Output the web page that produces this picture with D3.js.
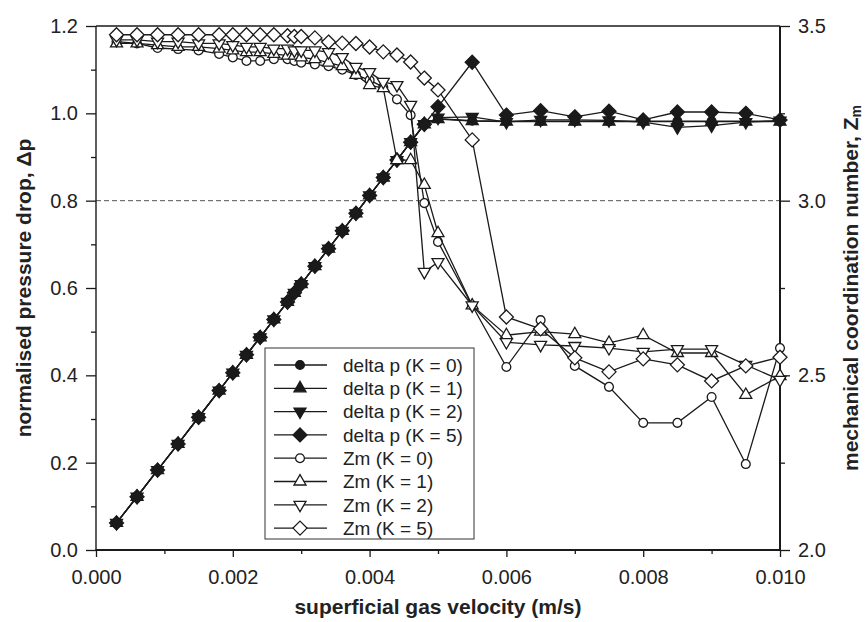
<!DOCTYPE html>
<html><head><meta charset="utf-8">
<script src="https://cdn.jsdelivr.net/npm/d3@7"></script>
<style>
html,body{margin:0;padding:0;background:#fff;}
svg{display:block;font-family:"Liberation Sans",Arial,sans-serif;}
</style></head>
<body>
<svg id="chart" width="866" height="622"></svg>
<script>
// ---------------- data ----------------
const velocity = [0.0003,0.0006,0.0009,0.0012,0.0015,0.0018,0.0020,0.0022,0.0024,0.0026,0.0028,0.0029,0.0030,
  0.0032,0.0034,0.0036,0.0038,0.0040,0.0042,0.0044,0.0046,0.0048,0.0050,0.0055,0.0060,0.0065,0.0070,0.0075,
  0.0080,0.0085,0.0090,0.0095,0.0100];

const dpK0 = [0.062,0.122,0.183,0.243,0.304,0.365,0.406,0.447,0.487,0.528,0.568,0.589,0.609,0.650,0.690,0.731,0.771,
  0.812,0.853,0.893,0.934,0.975,0.988,0.983,0.982,0.982,0.982,0.982,0.982,0.982,0.982,0.982,0.982];
const dpK1 = [0.062,0.122,0.183,0.243,0.304,0.365,0.406,0.447,0.487,0.528,0.568,0.589,0.609,0.650,0.690,0.731,0.771,
  0.812,0.853,0.893,0.934,0.975,0.987,0.982,0.981,0.981,0.981,0.981,0.981,0.981,0.981,0.981,0.981];
const dpK2 = [0.062,0.122,0.183,0.243,0.304,0.365,0.406,0.447,0.487,0.528,0.568,0.589,0.609,0.650,0.690,0.731,0.771,
  0.812,0.853,0.893,0.934,0.975,0.990,0.992,0.980,0.985,0.985,0.984,0.980,0.968,0.972,0.980,0.983];
const dpK5 = [0.062,0.122,0.183,0.243,0.304,0.365,0.406,0.447,0.487,0.528,0.568,0.589,0.609,0.650,0.690,0.731,0.771,
  0.812,0.853,0.893,0.934,0.975,1.015,1.117,0.996,1.006,0.992,1.005,0.985,1.003,1.003,1.000,0.985];

const zmK0 = [3.455,3.450,3.437,3.434,3.430,3.420,3.410,3.400,3.400,3.405,3.405,3.400,3.395,3.390,3.385,3.375,3.360,
  3.345,3.325,3.290,3.245,2.993,2.882,2.700,2.524,2.658,2.527,2.467,2.364,2.364,2.438,2.246,2.578];
const zmK1 = [3.450,3.450,3.445,3.440,3.440,3.435,3.430,3.425,3.425,3.420,3.415,3.415,3.410,3.405,3.395,3.385,3.360,
  3.331,3.322,3.116,3.116,3.045,2.907,2.700,2.615,2.625,2.618,2.593,2.615,2.564,2.564,2.444,2.498];
const zmK2 = [3.460,3.460,3.455,3.455,3.450,3.450,3.445,3.440,3.440,3.435,3.435,3.430,3.430,3.430,3.425,3.411,3.383,
  3.368,3.340,3.331,3.274,2.796,2.824,2.700,2.595,2.587,2.584,2.578,2.567,2.575,2.575,2.530,2.487];
const zmK5 = [3.475,3.475,3.475,3.475,3.475,3.475,3.475,3.475,3.475,3.475,3.472,3.470,3.470,3.466,3.454,3.451,3.450,
  3.440,3.426,3.417,3.397,3.351,3.317,3.174,2.667,2.633,2.550,2.510,2.547,2.530,2.484,2.527,2.552];

const seriesNames = ["delta p (K = 0)","delta p (K = 1)","delta p (K = 2)","delta p (K = 5)",
                     "Zm (K = 0)","Zm (K = 1)","Zm (K = 2)","Zm (K = 5)"];

const xMajorTicks = [0,0.002,0.004,0.006,0.008,0.010];
const xMinorTicks = [0.001,0.003,0.005,0.007,0.009];
const yLeftMajorTicks = [0,0.2,0.4,0.6,0.8,1.0,1.2];
const yLeftMinorTicks = [0.1,0.3,0.5,0.7,0.9,1.1];
const yRightMajorTicks = [2.0,2.5,3.0,3.5];
const yRightMinorTicks = [2.25,2.75,3.25];
const referenceLine = 0.8;

// ---------------- layout ----------------
const svg = d3.select("#chart");
const L = 96, R = 780, T = 26, B = 550;
const x = d3.scaleLinear().domain([0,0.010]).range([L,R]);
const yL = d3.scaleLinear().domain([0,1.2]).range([B,T]);
const yR = d3.scaleLinear().domain([2.0,3.5]).range([B,T]);
const ink = "#1a1a1a";

svg.append("rect").attr("width",866).attr("height",622).attr("fill","#fff");

// dashed reference line
svg.append("line").attr("x1",L).attr("x2",R).attr("y1",yL(referenceLine)).attr("y2",yL(referenceLine))
  .attr("stroke","#555").attr("stroke-width",1).attr("stroke-dasharray","5,3");

// axes
function styleAxis(g){
  g.selectAll("path.domain").remove();
  g.selectAll("line").attr("stroke",ink).attr("stroke-width",1.3);
  g.selectAll("text").attr("fill","#222").style("font-size","20px")
    .style("font-family",'"Liberation Sans",Arial,sans-serif');
}
const fmtX = d3.format(".3f"), fmtY = d3.format(".1f");
svg.append("g").attr("transform",`translate(0,${B})`)
  .call(d3.axisBottom(x).tickValues(xMajorTicks).tickFormat(fmtX).tickSize(7).tickPadding(13)).call(styleAxis);
svg.append("g").attr("transform",`translate(0,${B})`)
  .call(d3.axisBottom(x).tickValues(xMinorTicks).tickFormat("").tickSize(4)).call(styleAxis);
svg.append("g").attr("transform",`translate(${L},0)`)
  .call(d3.axisLeft(yL).tickValues(yLeftMajorTicks).tickFormat(fmtY).tickSize(10).tickPadding(8)).call(styleAxis);
svg.append("g").attr("transform",`translate(${L},0)`)
  .call(d3.axisLeft(yL).tickValues(yLeftMinorTicks).tickFormat("").tickSize(5)).call(styleAxis);
svg.append("g").attr("transform",`translate(${R},0)`)
  .call(d3.axisRight(yR).tickValues(yRightMajorTicks).tickFormat(fmtY).tickSize(10).tickPadding(8)).call(styleAxis);
svg.append("g").attr("transform",`translate(${R},0)`)
  .call(d3.axisRight(yR).tickValues(yRightMinorTicks).tickFormat("").tickSize(5)).call(styleAxis);

// frame
svg.append("line").attr("x1",L).attr("x2",R).attr("y1",T).attr("y2",T).attr("stroke",ink).attr("stroke-width",1.4);
svg.append("line").attr("x1",L).attr("x2",L).attr("y1",T).attr("y2",B).attr("stroke",ink).attr("stroke-width",1.4);
svg.append("line").attr("x1",L-0.5).attr("x2",R+1).attr("y1",B).attr("y2",B).attr("stroke",ink).attr("stroke-width",2);
svg.append("line").attr("x1",R).attr("x2",R).attr("y1",T).attr("y2",B+1).attr("stroke",ink).attr("stroke-width",2);

// markers
function markerPath(type){
  switch(type){
    case "circle": return d3.symbol().type(d3.symbolCircle).size(Math.PI*4.4*4.4)();
    case "up": return "M0,-6.9L6,3.5L-6,3.5Z";
    case "down": return "M0,6.9L6,-3.5L-6,-3.5Z";
    case "diamond": return "M0,-7L7,0L0,7L-7,0Z";
  }
}
const series = [
  {name:seriesNames[0], vals:dpK0, y:yL, shape:"circle",  fill:ink},
  {name:seriesNames[1], vals:dpK1, y:yL, shape:"up",      fill:ink},
  {name:seriesNames[2], vals:dpK2, y:yL, shape:"down",    fill:ink},
  {name:seriesNames[3], vals:dpK5, y:yL, shape:"diamond", fill:ink},
  {name:seriesNames[4], vals:zmK0, y:yR, shape:"circle",  fill:"#fff"},
  {name:seriesNames[5], vals:zmK1, y:yR, shape:"up",      fill:"#fff"},
  {name:seriesNames[6], vals:zmK2, y:yR, shape:"down",    fill:"#fff"},
  {name:seriesNames[7], vals:zmK5, y:yR, shape:"diamond", fill:"#fff"}
];

series.forEach(s=>{
  const pts = velocity.map((v,i)=>[v,s.vals[i]]);
  const line = d3.line().x(d=>x(d[0])).y(d=>s.y(d[1]));
  const g = svg.append("g");
  g.append("path").attr("d",line(pts)).attr("fill","none").attr("stroke",ink).attr("stroke-width",1.3);
  g.selectAll("path.m").data(pts).join("path").attr("class","m")
    .attr("d",markerPath(s.shape))
    .attr("transform",d=>`translate(${x(d[0])},${s.y(d[1])})`)
    .attr("fill",s.fill).attr("stroke",ink).attr("stroke-width",1.3);
});

// legend
const lg = svg.append("g");
lg.append("rect").attr("x",265).attr("y",348).attr("width",209).attr("height",191)
  .attr("fill","#fff").attr("stroke","#333").attr("stroke-width",1);
series.forEach((s,i)=>{
  const yy = 365 + i*23.3;
  lg.append("line").attr("x1",274).attr("x2",327).attr("y1",yy).attr("y2",yy).attr("stroke",ink).attr("stroke-width",1.3);
  lg.append("path").attr("d",markerPath(s.shape)).attr("transform",`translate(300,${yy})`)
    .attr("fill",s.fill).attr("stroke",ink).attr("stroke-width",1.3);
  lg.append("text").attr("x",343).attr("y",yy).attr("dy","0.36em").attr("fill","#222")
    .style("font-size","19px").text(s.name);
});

// axis titles
svg.append("text").attr("x",(L+R)/2).attr("y",614).attr("text-anchor","middle")
  .style("font-size","21px").style("font-weight","bold").attr("fill","#222")
  .text("superficial gas velocity (m/s)");
svg.append("text").attr("transform",`translate(31,${(T+B)/2}) rotate(-90)`).attr("text-anchor","middle")
  .style("font-size","21px").style("font-weight","bold").attr("fill","#222")
  .text("normalised pressure drop, Δp");
const rt = svg.append("text").attr("transform",`translate(858,${(T+B)/2}) rotate(-90)`).attr("text-anchor","middle")
  .style("font-size","21px").style("font-weight","bold").attr("fill","#222");
rt.append("tspan").text("mechanical coordination number, Z");
rt.append("tspan").attr("dy","3").style("font-size","14px").text("m");
</script>
</body></html>
